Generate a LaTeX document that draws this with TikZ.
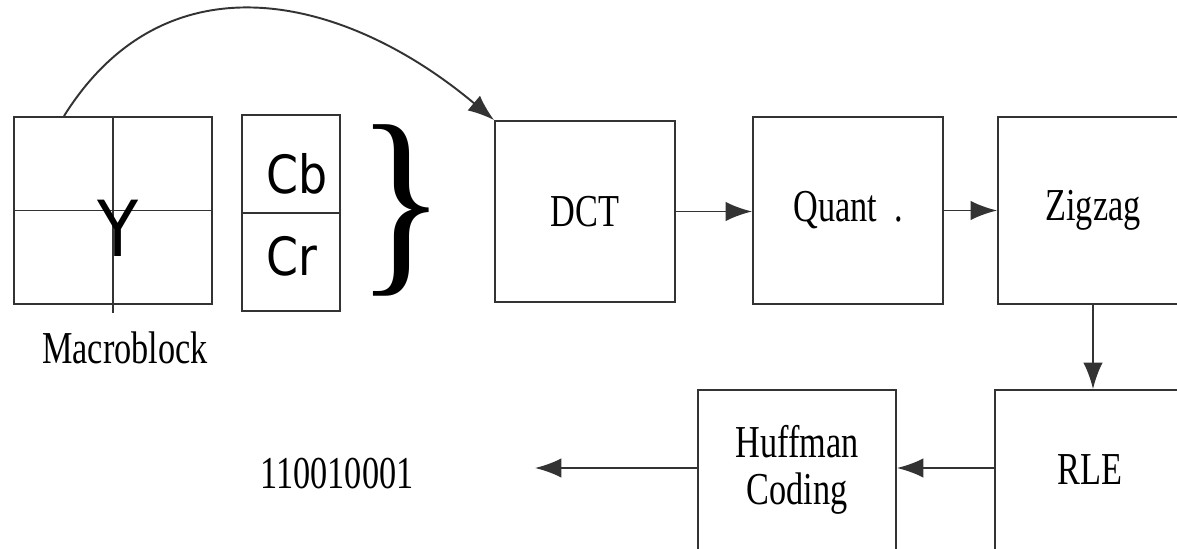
\documentclass[tikz,border=0pt]{standalone}
\usepackage{fontspec}
\usetikzlibrary{arrows.meta}
\newfontfamily\labelfont[FakeStretch=0.75]{Liberation Serif}
\newfontfamily\compfont[FakeStretch=0.87]{DejaVu Sans}
\newfontfamily\bracefont[FakeStretch=0.9]{Liberation Serif}

\begin{document}
\begin{tikzpicture}[x=0.02cm, y=0.02cm, >={Latex[length=15pt, width=11pt]}, line width=1.1pt,
	block/.style={draw=black!80, inner sep=0pt, align=center, font=\labelfont\fontsize{26}{27}\selectfont},
	caption/.style={inner sep=0pt, font=\labelfont\fontsize{26}{27}\selectfont},
	comp/.style={inner sep=0pt, font=\compfont\fontsize{30}{30}\selectfont}]
		\clip (0, 0) rectangle (1177, 548);
		
		% macroblock: Y and Cb/Cr
		\node[draw=black!80, minimum width=3.96cm, minimum height=3.74cm] (mb) at (113, 337.5) {};
		\draw[black!80] (mb.west) -- (mb.east);
		\draw[black!80] (mb.north) -- ([yshift=-0.16cm]mb.south);
		\node[comp, font=\compfont\fontsize{44}{44}\selectfont] (y) at (118, 320) {Y};
		
		\node[draw=black!80, minimum width=1.96cm, minimum height=3.92cm] (cc) at (291, 335) {};
		\draw[black!80] (cc.west) -- (cc.east);
		\node[comp] (cb) at (297, 374) {Cb};
		\node[comp] (cr) at (292, 292) {Cr};
		
		\node[inner sep=0pt, font=\bracefont\fontsize{118}{118}\selectfont] (brace) at (401, 338) {\}};
		\node[caption] (mbtext) at (125, 200) {Macroblock};
		
		% coding chain
		\node[block, minimum width=3.6cm, minimum height=3.62cm] (dct) at (585, 336.5) {DCT};
		\node[block, minimum width=3.8cm, minimum height=3.74cm] (quant) at (848, 337.5) {Quant\ \ .};
		\node[block, minimum width=3.8cm, minimum height=3.74cm] (zig) at (1093, 337.5) {Zigzag};
		\node[block, minimum width=3.8cm, minimum height=3.2cm] (rle) at (1090, 78) {RLE};
		\node[block, minimum width=3.96cm, minimum height=3.2cm] (huff) at (797, 78) {Huffman\\Coding};
		\node[caption] (bits) at (337, 74) {110010001};
		\coordinate (arcstart) at ([xshift=-0.98cm]mb.north);
		\coordinate (bitsend) at (535, 80);
		
		\path[every edge/.append style={->, draw=black!80}]
			(arcstart) edge[out=58, in=140, looseness=1.15] (dct.north west)
			(dct.east) edge (dct.east -| quant.west)
			(quant.east) edge (quant.east -| zig.west)
			(zig.south) edge (zig.south |- rle.north)
			(rle.west |- bitsend) edge (huff.east |- bitsend)
			(huff.west |- bitsend) edge (bitsend);
	\end{tikzpicture}
\end{document}
